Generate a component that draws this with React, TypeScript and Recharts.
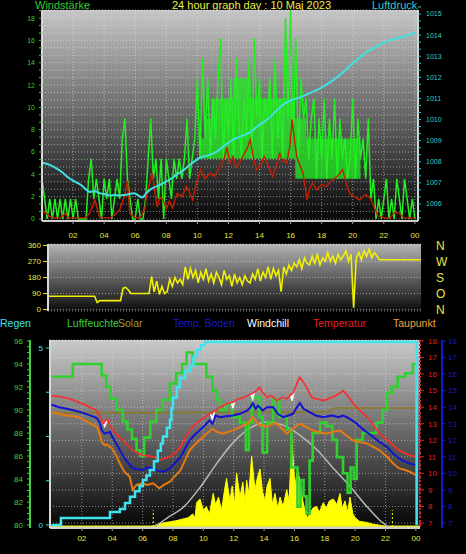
import React from "react";
import {
  ComposedChart,
  Line,
  Area,
  XAxis,
  YAxis,
  CartesianGrid,
  ReferenceLine,
} from "recharts";

const FONT = "'Liberation Sans', Arial, sans-serif";

// hours shown under each panel
const hourTicks = [2, 4, 6, 8, 10, 12, 14, 16, 18, 20, 22, 24];
const hourLabels = ["02", "04", "06", "08", "10", "12", "14", "16", "18", "20", "22", "00"];

// ---------- top panel ----------
// wind gust, one value every 10 minutes (m/s)
const gustValues = [
  3.6, 1.8, 0, 1.8, 0, 1.8,
  0, 1.8, 0, 1.8, 0, 1.8,
  0, 1.8, 0, 0, 0, 0,
  3.6, 5.4, 1.8, 3.6, 1.8, 0,
  3.6, 1.8, 3.6, 0, 1.8, 3.6,
  1.8, 7.2, 9.0, 3.6, 1.8, 0,
  0, 1.8, 0, 0, 1.8, 5.4,
  9.0, 3.6, 5.4, 1.8, 5.4, 0,
  5.4, 3.6, 1.8, 5.4, 3.6, 5.4,
  3.6, 5.4, 9.0, 3.6, 5.4, 7.2,
  12.6, 5.4, 14.4, 7.2, 12.6, 5.4,
  10.8, 7.2, 12.6, 16.2, 5.4, 10.8,
  7.2, 12.6, 5.4, 14.4, 9.0, 5.4,
  10.8, 7.2, 14.4, 5.4, 16.2, 9.0,
  12.6, 5.4, 10.8, 9.0, 12.6, 5.4,
  14.4, 7.2, 10.8, 5.4, 18.0, 9.0,
  18.7, 7.2, 16.2, 5.4, 12.6, 9.0,
  10.8, 5.4, 9.0, 10.8, 3.6, 9.0,
  5.4, 10.8, 3.6, 9.0, 5.4, 10.8,
  3.6, 9.0, 5.4, 7.2, 3.6, 5.4,
  10.8, 3.6, 9.0, 5.4, 7.2, 3.6,
  9.0, 1.8, 3.6, 0, 1.8, 0,
  1.8, 3.6, 0, 1.8, 0, 3.6,
  1.8, 0, 3.6, 1.8, 0, 1.8,
  0,
];

// the dense part of the gust trace [hour, low, high]
const gustBand: [number, number, number][] = [
  [10.2, 5.4, 7.2], [10.5, 5.4, 9.0], [10.9, 5.4, 10.8], [12.3, 5.4, 12.6], [13.3, 5.4, 10.8],
  [16.3, 3.6, 9.0], [17.0, 3.6, 7.2], [20.5, 3.6, 3.6],
];

// average wind [hour, m/s]
const windAvg: [number, number][] = [
  [0, 0.8], [0.3, 0.5], [0.5, 0.2], [0.8, 0.1], [1.2, 0.1], [1.5, 0.5], [1.7, 0.1], [2.3, 0.1],
  [2.8, 0.1], [3.1, 0.6], [3.4, 1.7], [3.7, 0.2], [4.0, 0.1], [4.4, 0.1], [4.7, 0.4], [5.0, 0.8],
  [5.3, 2.0], [5.5, 3.4], [5.65, 0.5], [6.0, 0.1], [6.3, 0.1], [6.6, 0.8], [6.75, 2.3], [7.1, 4.1],
  [7.4, 1.1], [7.6, 2.0], [7.8, 1.7], [8.0, 0.9], [8.2, 1.6], [8.4, 1.0], [8.7, 2.3], [9.0, 2.0],
  [9.3, 2.9], [9.5, 2.4], [9.7, 1.7], [9.9, 3.0], [10.2, 4.4], [10.5, 3.6], [10.8, 4.1], [11.1, 3.8],
  [11.45, 4.7], [11.7, 5.3], [11.9, 6.4], [12.1, 5.0], [12.3, 5.6], [12.5, 4.6], [12.7, 5.0], [13.0, 5.8],
  [13.2, 6.3], [13.4, 7.1], [13.6, 5.5], [13.8, 4.4], [14.1, 4.9], [14.3, 5.6], [14.5, 5.0], [14.7, 4.3],
  [14.85, 3.8], [15.1, 4.9], [15.3, 5.9], [15.5, 5.2], [15.75, 5.0], [15.95, 6.5], [16.1, 8.9], [16.25, 7.0],
  [16.4, 5.6], [16.6, 4.8], [16.8, 4.1], [17.05, 1.7], [17.2, 2.6], [17.4, 3.2], [17.7, 2.6], [18.0, 3.1],
  [18.3, 2.9], [18.6, 3.4], [19.0, 3.8], [19.35, 4.4], [19.6, 3.1], [19.8, 2.3], [20.1, 2.0], [20.45, 1.7],
  [20.8, 2.2], [21.1, 1.9], [21.4, 1.0], [21.6, 0.3], [22.0, 0.1], [22.4, 0.1], [22.7, 0.6], [23.0, 0.5],
  [23.3, 0.1], [23.7, 0.1], [24, 0.1],
];

// air pressure [hour, hPa]
const pressure: [number, number][] = [
  [0, 1007.95], [0.5, 1007.85], [0.9, 1007.7], [1.3, 1007.5], [1.6, 1007.3], [2.0, 1007.1],
  [2.5, 1006.9], [3.1, 1006.57], [3.4, 1006.6], [3.75, 1006.5], [4.1, 1006.45], [4.4, 1006.4],
  [4.7, 1006.42], [5.0, 1006.4], [5.5, 1006.45], [5.9, 1006.5], [6.2, 1006.4], [6.45, 1006.3],
  [6.7, 1006.5], [7.0, 1006.7], [7.6, 1006.9], [8.1, 1007.1], [8.6, 1007.35], [9.1, 1007.6],
  [9.6, 1007.9], [10.2, 1008.2], [10.7, 1008.3], [11.3, 1008.5], [11.8, 1008.8], [12.3, 1009.05],
  [12.8, 1009.2], [13.4, 1009.4], [13.9, 1009.7], [14.5, 1010.0], [15.0, 1010.35], [15.5, 1010.7],
  [16.0, 1010.9], [16.6, 1011.05], [17.1, 1011.2], [17.7, 1011.4], [18.2, 1011.6], [18.8, 1011.9],
  [19.4, 1012.25], [19.9, 1012.6], [20.4, 1012.9], [20.9, 1013.2], [21.4, 1013.4], [21.8, 1013.57],
  [22.4, 1013.75], [23.1, 1013.9], [23.6, 1014.0], [24, 1014.1],
];

const windTicks = [0, 2, 4, 6, 8, 10, 12, 14, 16, 18];
const pressureTicks = [1006, 1007, 1008, 1009, 1010, 1011, 1012, 1013, 1014, 1015];

// ---------- middle panel ----------
// wind direction in degrees, one value every 10 minutes
const directionValues = [
  75, 75, 75, 75, 75, 75,
  75, 75, 75, 75, 75, 75,
  75, 75, 75, 75, 75, 75,
  75, 40, 50, 50, 50, 50,
  50, 50, 50, 50, 50, 120,
  125, 110, 90, 90, 90, 90,
  90, 90, 90, 90, 185, 100,
  160, 85, 130, 90, 100, 170,
  130, 180, 150, 170, 140, 240,
  170, 230, 180, 220, 150, 210,
  170, 230, 160, 200, 150, 210,
  180, 140, 220, 170, 190, 130,
  200, 150, 180, 140, 190, 160,
  150, 200, 170, 230, 160, 210,
  180, 240, 170, 230, 190, 220,
  100, 240, 200, 250, 220, 260,
  240, 280, 230, 290, 260, 250,
  300, 260, 310, 250, 290, 270,
  320, 270, 300, 260, 310, 280,
  300, 330, 270, 310, 10, 290,
  320, 280, 330, 300, 340, 290,
  320, 300, 280, 280, 280, 280,
  280, 280, 280, 280, 280, 280,
  280, 280, 280, 280, 280, 280,
  280,
];
const directionTicks = [0, 90, 180, 270, 360];
const compassLetters = ["N", "O", "S", "W", "N"];

// ---------- bottom panel ----------
// accumulated rain [hour, mm]
const rain: [number, number][] = [
  [0, 0], [0.62, 0.2], [3.85, 0.37], [4.5, 0.45], [4.84, 0.62], [5.17, 0.8], [5.5, 0.95],
  [5.8, 1.1], [6.02, 1.27], [6.25, 1.4], [6.48, 1.55], [6.75, 1.8], [7.0, 2.1], [7.2, 2.3],
  [7.34, 2.5], [7.6, 2.75], [7.8, 2.97], [7.9, 3.3], [8.0, 3.6], [8.25, 3.9], [8.46, 4.15],
  [8.8, 4.35], [9.1, 4.5], [9.35, 4.75], [9.58, 4.95], [9.85, 5.08], [10.1, 5.17], [24.05, 5.17],
  [24.05, 0],
];

// humidity [hour, %]
const humidity: [number, number][] = [
  [0, 92.9], [1.4, 94], [3.3, 93], [3.6, 92], [3.9, 91], [4.3, 90], [4.7, 89], [5.0, 88.3],
  [5.3, 87.5], [5.6, 86.5], [5.85, 86], [6.1, 87.6], [6.5, 89], [6.9, 90], [7.3, 90.9], [7.8, 92.3],
  [8.2, 93.2], [8.6, 94], [8.9, 95], [9.3, 94], [10.2, 92.9], [10.6, 91.7], [10.9, 90.9], [11.1, 90],
  [11.5, 90.5], [11.9, 89.4], [12.4, 88.9], [12.8, 86.5], [13.0, 88.9], [13.2, 91.1], [13.7, 89.4],
  [13.9, 86.3], [14.2, 88.9], [14.6, 90.9], [15.0, 89.4], [15.5, 88.3], [15.8, 85], [16.2, 81.6],
  [16.4, 83.9], [16.6, 82.5], [16.8, 81], [17.0, 85.6], [17.2, 88], [17.7, 88.9], [18.1, 88.6],
  [18.5, 87.4], [18.8, 85.9], [19.2, 84.5], [19.5, 82.8], [19.7, 85], [19.9, 84], [20.1, 87.4],
  [20.5, 88], [21.0, 88], [21.4, 88.9], [21.8, 90], [22.1, 91.5], [22.4, 92], [22.8, 92.9],
  [23.3, 93.2], [23.8, 94], [24, 94],
];

// temperature [hour, °C]
const temperature: [number, number][] = [
  [0, 14.7], [0.5, 14.65], [1.0, 14.55], [1.5, 14.4], [1.9, 14.25], [2.2, 14.15], [2.5, 14.0],
  [2.8, 13.9], [3.05, 13.7], [3.25, 13.3], [3.4, 13.0], [3.55, 13.2], [3.7, 13.25], [3.85, 12.9],
  [4.2, 12.4], [4.5, 12.2], [4.9, 11.8], [5.35, 11.4], [5.7, 11.2], [6.0, 11.1], [6.4, 11.05],
  [6.7, 11.0], [7.1, 10.8], [7.4, 10.9], [7.8, 11.0], [8.2, 11.3], [8.5, 11.6], [8.8, 12.1],
  [9.1, 12.6], [9.4, 12.9], [9.75, 13.2], [10.1, 13.4], [10.4, 13.6], [10.8, 13.8], [11.1, 14.0],
  [11.5, 14.2], [11.95, 14.3], [12.3, 14.5], [12.6, 14.55], [12.9, 14.7], [13.25, 14.85],
  [13.5, 15.0], [13.7, 15.2], [13.9, 14.9], [14.2, 14.6], [14.5, 14.7], [14.85, 14.4], [15.2, 14.6],
  [15.5, 14.5], [15.7, 14.7], [15.9, 14.85], [16.1, 15.3], [16.35, 15.8], [16.6, 15.5], [16.8, 15.2],
  [17.0, 14.8], [17.2, 14.55], [17.5, 14.5], [17.9, 14.4], [18.2, 14.5], [18.5, 14.6], [18.9, 14.8],
  [19.2, 15.0], [19.5, 14.7], [19.85, 14.25], [20.3, 13.8], [20.8, 13.4], [21.2, 12.9], [21.6, 12.4],
  [22.0, 12.1], [22.3, 11.9], [22.6, 11.6], [22.9, 11.4], [23.3, 11.2], [23.6, 11.1], [24, 11.0],
];

// windchill, only where it drops below the temperature
const windchill: [number, number | null][] = [
  [3.35, 13.15], [3.5, 12.85], [3.65, 13.23], [3.66, null],
  [10.45, 13.63], [10.6, 13.3], [10.75, 13.78], [10.76, null],
  [11.85, 14.28], [11.95, 13.95], [12.05, 14.37], [12.06, null],
  [13.15, 14.8], [13.25, 14.5], [13.35, 14.91], [13.36, null],
  [15.75, 14.74], [15.85, 14.4], [15.95, 14.96],
];

// soil temperature [hour, °C]
const soilTemp: [number, number][] = [
  [0, 14.15], [0.5, 14.0], [1.0, 13.9], [1.5, 13.8], [1.9, 13.7], [2.4, 13.55], [3.0, 13.35],
  [3.2, 13.0], [3.3, 12.6], [3.5, 12.4], [3.65, 12.45], [3.85, 12.5], [4.0, 12.2], [4.2, 11.9],
  [4.5, 11.4], [4.9, 10.8], [5.35, 10.3], [5.7, 10.25], [6.0, 10.2], [6.3, 10.35], [6.7, 10.3],
  [7.0, 10.15], [7.35, 10.1], [7.6, 10.2], [7.8, 10.3], [8.1, 10.6], [8.5, 11.0], [8.8, 11.5],
  [9.1, 12.0], [9.4, 12.3], [9.75, 12.6], [10.1, 12.9], [10.4, 13.2], [10.6, 13.0], [10.8, 13.5],
  [11.1, 13.4], [11.5, 13.45], [11.95, 13.5], [12.4, 13.6], [12.9, 13.8], [13.1, 14.0], [13.25, 14.25],
  [13.45, 13.9], [13.6, 14.1], [13.9, 13.8], [14.2, 14.0], [14.6, 14.0], [14.9, 13.6], [15.25, 13.4],
  [15.6, 13.5], [15.9, 13.6], [16.1, 13.9], [16.35, 14.25], [16.6, 13.9], [17.0, 13.7], [17.4, 13.5],
  [17.9, 13.4], [18.2, 13.45], [18.5, 13.5], [18.9, 13.4], [19.2, 13.5], [19.45, 13.4], [19.8, 13.2],
  [20.1, 13.0], [20.6, 12.6], [21.2, 12.2], [21.6, 11.9], [22.1, 11.6], [22.5, 11.2], [22.9, 10.9],
  [23.3, 10.7], [23.6, 10.6], [24, 10.5],
];

// dew point [hour, °C]
const dewPoint: [number, number][] = [
  [0, 13.7], [0.5, 13.6], [1.0, 13.5], [1.5, 13.45], [1.9, 13.35], [2.4, 13.1], [3.0, 12.8],
  [3.2, 12.3], [3.3, 11.9], [3.5, 11.7], [3.65, 11.75], [3.85, 11.6], [4.0, 11.5], [4.3, 11.0],
  [4.5, 10.6], [4.8, 10.1], [5.15, 9.8], [5.35, 9.0], [5.6, 9.3], [6.0, 9.4], [6.3, 9.3], [6.7, 9.4],
  [7.1, 9.1], [7.4, 9.3], [7.8, 9.5], [8.1, 9.8], [8.5, 10.2], [8.8, 10.8], [9.1, 11.4], [9.4, 11.7],
  [9.75, 12.0], [10.1, 12.3], [10.6, 12.7], [10.9, 12.5], [11.3, 12.4], [11.6, 12.5], [11.95, 12.6],
  [12.4, 12.8], [12.9, 13.0], [13.25, 13.4], [13.5, 13.1], [13.7, 12.9], [14.0, 12.9], [14.2, 12.8],
  [14.5, 13.0], [14.85, 13.0], [15.2, 12.7], [15.5, 12.4], [15.9, 12.7], [16.35, 13.0], [16.8, 12.8],
  [17.2, 12.6], [17.6, 12.5], [18.1, 12.4], [18.5, 12.5], [19.0, 12.6], [19.4, 12.3], [19.85, 12.0],
  [20.3, 11.9], [20.8, 11.8], [21.2, 11.6], [21.6, 11.4], [22.1, 11.0], [22.5, 10.6], [22.9, 10.3],
  [23.3, 10.2], [23.6, 10.1], [24, 9.9],
];

// olive solar level line [hour, °C scale]
const solarLevel: [number, number][] = [
  [0, 13.65], [18.3, 13.72], [18.6, 13.95], [24, 13.95],
];

// measured solar radiation (relative)
const solar: [number, number][] = [
  [6.6, 0], [7.0, 1.5], [7.5, 2.5], [8.0, 3], [8.5, 4], [9.0, 5], [9.3, 7], [9.45, 5], [9.56, 13],
  [9.78, 15], [10.0, 9], [10.2, 11], [10.4, 7], [10.65, 18], [10.8, 12], [11.0, 16], [11.2, 9],
  [11.4, 20], [11.53, 26], [11.75, 14], [11.9, 22], [12.05, 12], [12.19, 29], [12.41, 16], [12.6, 24],
  [12.75, 13], [12.85, 25], [13.0, 18], [13.18, 38], [13.4, 20], [13.55, 26], [13.73, 31], [13.9, 19],
  [14.06, 14], [14.2, 22], [14.39, 26], [14.55, 12], [14.72, 18], [14.9, 10], [15.05, 16], [15.25, 11],
  [15.49, 20], [15.65, 14], [15.82, 48], [16.03, 22], [16.2, 30], [16.36, 25], [16.55, 14], [16.69, 9],
  [16.85, 5], [17.02, 7], [17.2, 10], [17.46, 11], [17.65, 8], [17.9, 13], [18.1, 10], [18.3, 14],
  [18.56, 15], [18.8, 12], [19.0, 18], [19.15, 10], [19.33, 14], [19.5, 8], [19.66, 16], [19.85, 7],
  [20.0, 5], [20.3, 3], [20.76, 2.5], [21.2, 1.5], [21.63, 1], [22.0, 0.3], [22.3, 0],
];

// theoretical clear sky radiation (relative)
const solarMax: [number, number][] = [
  [6.8, 0], [7.6, 4.8], [8.7, 10.7], [9.8, 21.4], [10.9, 34.2], [11.95, 45], [13.1, 53],
  [14.2, 56.2], [15.25, 54.5], [16.35, 49.2], [17.5, 41.2], [18.5, 32], [19.7, 21.4],
  [20.8, 10.7], [21.6, 3.8], [22.2, 0],
];

const sunrise = 6.7;
const sunset = 22.45;

const humidityTicks = [80, 82, 84, 86, 88, 90, 92, 94, 96];
const rainTicks = [0, 1.25, 2.5, 3.75, 5];
const tempTicks = [7, 8, 9, 10, 11, 12, 13, 14, 15, 16, 17, 18];

const toPoints = (rows: [number, number | null][]) => rows.map(([h, v]) => ({ h, v }));

const hourFmt = (v: number) => hourLabels[hourTicks.indexOf(v)] ?? "";

const legend = [
  { text: "Regen", color: "#3fe0e8", left: 0 },
  { text: "Luftfeuchte", color: "#3ed23e", left: 67 },
  { text: "Solar", color: "#9a9a3a", left: 118 },
  { text: "Temp. Boden", color: "#1818d0", left: 173 },
  { text: "Windchill", color: "#ffffff", left: 247 },
  { text: "Temperatur", color: "#e02020", left: 313 },
  { text: "Taupunkt", color: "#f0a040", left: 393 },
];

function Label({ text, color, left, top, size = 11 }: { text: string; color: string; left: number; top: number; size?: number }) {
  return (
    <div
      style={{
        position: "absolute",
        left,
        top,
        color,
        fontSize: size,
        fontFamily: FONT,
        lineHeight: `${size + 1}px`,
        whiteSpace: "nowrap",
      }}
    >
      {text}
    </div>
  );
}

export default function App() {
  const gustData = gustValues.map((v, i) => ({ h: i / 6, v }));
  const bandData = gustBand.map(([h, lo, hi]) => ({ h, v: [lo, hi] }));
  const dirData = directionValues.map((v, i) => ({ h: i / 6, v }));
  const windMinor = Array.from({ length: 29 }, (_, i) => (i * 2) / 3);
  const pressMinor = Array.from({ length: 31 }, (_, i) => 1005 + i / 3 + 1 / 3);
  const humMinor = Array.from({ length: 33 }, (_, i) => 80 + i / 2);

  const tickStyle = (fill: string, size = 7) => ({ fill, fontSize: size, fontFamily: FONT });
  const grid = { stroke: "#e8e8e8", strokeOpacity: 0.55, strokeDasharray: "1 2" };

  return (
    <div
      style={{
        position: "absolute",
        left: 0,
        top: 0,
        width: 466,
        height: 554,
        background: "#000",
        overflow: "hidden",
      }}
    >
      <Label text="Windstärke" color="#33cc33" left={35} top={-1} />
      <Label text="24 hour graph day : 10 Maj 2023" color="#eeee44" left={172} top={-1} />
      <Label text="Luftdruck" color="#33cccc" left={372} top={-1} />

      {/* top: wind and pressure */}
      <div style={{ position: "absolute", left: 0, top: 0 }}>
        <ComposedChart width={466} height={245} margin={{ top: 10, right: 10, bottom: 4, left: 12 }}>
          <defs>
            <linearGradient id="bgTop" x1="0" y1="0" x2="0" y2="1">
              <stop offset="0%" stopColor="#c6c6c6" />
              <stop offset="100%" stopColor="#060606" />
            </linearGradient>
          </defs>
          <CartesianGrid {...grid} fill="url(#bgTop)" yAxisId="wind" />
          <XAxis
            type="number"
            dataKey="h"
            domain={[0, 24.2]}
            ticks={hourTicks}
            interval={0}
            tickFormatter={hourFmt}
            tick={tickStyle("#e6e640", 8)}
            tickSize={3}
            tickMargin={8}
            height={20}
            axisLine={{ stroke: "#d0d0d0", strokeWidth: 2 }}
            tickLine={{ stroke: "#a0a0a0" }}
            allowDataOverflow
          />
          <YAxis
            yAxisId="wind"
            orientation="left"
            width={30}
            domain={[-0.18, 18.72]}
            ticks={windMinor}
            interval={0}
            tickFormatter={(v: number) => (windTicks.includes(v) ? String(v) : "")}
            tick={tickStyle("#33cc33")}
            tickSize={3}
            tickMargin={4}
            axisLine={{ stroke: "#d8d8d8", strokeWidth: 2 }}
            tickLine={{ stroke: "#33cc33" }}
            allowDataOverflow
          />
          <YAxis
            yAxisId="press"
            orientation="right"
            width={38}
            domain={[1005.19, 1015.19]}
            ticks={pressMinor}
            interval={0}
            tickFormatter={(v: number) => {
              const r = Math.round(v);
              return Math.abs(v - r) < 1e-6 && pressureTicks.includes(r) ? String(r) : "";
            }}
            tick={tickStyle("#33cccc")}
            tickSize={3}
            tickMargin={5}
            axisLine={{ stroke: "#d8d8d8", strokeWidth: 2 }}
            tickLine={{ stroke: "#33cccc" }}
            allowDataOverflow
          />
          <Area
            yAxisId="wind"
            data={bandData}
            dataKey="v"
            type="stepAfter"
            stroke="none"
            fill="#22ee22"
            fillOpacity={0.75}
            isAnimationActive={false}
          />
          <Line
            yAxisId="wind"
            data={gustData}
            dataKey="v"
            type="linear"
            stroke="#22ee22"
            strokeWidth={1.5}
            dot={false}
            isAnimationActive={false}
          />
          <Line
            yAxisId="wind"
            data={toPoints(windAvg)}
            dataKey="v"
            type="linear"
            stroke="#c81e00"
            strokeWidth={1.4}
            dot={false}
            isAnimationActive={false}
          />
          <Line
            yAxisId="press"
            data={toPoints(pressure)}
            dataKey="v"
            type="monotone"
            stroke="#40e0e0"
            strokeWidth={2}
            dot={false}
            isAnimationActive={false}
          />
        </ComposedChart>
      </div>

      {/* middle: wind direction */}
      <div style={{ position: "absolute", left: 0, top: 240 }}>
        <ComposedChart width={466} height={80} margin={{ top: 4, right: 10, bottom: 9, left: 12 }}>
          <defs>
            <linearGradient id="bgMid" x1="0" y1="0" x2="0" y2="1">
              <stop offset="0%" stopColor="#b4b4b4" />
              <stop offset="100%" stopColor="#0c0c0c" />
            </linearGradient>
          </defs>
          <CartesianGrid {...grid} vertical={false} fill="url(#bgMid)" yAxisId="dir" />
          <XAxis type="number" dataKey="h" domain={[0, 24]} hide allowDataOverflow />
          <YAxis
            yAxisId="dir"
            orientation="left"
            width={36}
            domain={[-8, 368]}
            ticks={directionTicks}
            interval={0}
            tick={tickStyle("#e6e640", 8)}
            tickSize={5}
            tickMargin={2}
            axisLine={{ stroke: "#d8d8d8", strokeWidth: 2 }}
            tickLine={{ stroke: "#e6e640" }}
            allowDataOverflow
          />
          <YAxis
            yAxisId="compass"
            orientation="right"
            width={35}
            domain={[-8, 368]}
            ticks={directionTicks}
            interval={0}
            tickFormatter={(v: number) => compassLetters[directionTicks.indexOf(v)]}
            tick={tickStyle("#e6e640", 12)}
            tickSize={0}
            tickMargin={15}
            axisLine={false}
            allowDataOverflow
          />
          <Line
            yAxisId="dir"
            data={dirData}
            dataKey="v"
            type="linear"
            stroke="#f0f000"
            strokeWidth={1.6}
            dot={false}
            isAnimationActive={false}
          />
        </ComposedChart>
      </div>

      {legend.map((l) => (
        <Label key={l.text} text={l.text} color={l.color} left={l.left} top={318} size={10.5} />
      ))}

      {/* bottom: rain, humidity, temperatures, solar
          (axis ids are named so that the inner axes sort first) */}
      <div style={{ position: "absolute", left: 0, top: 330 }}>
        <ComposedChart width={466} height={224} margin={{ top: 10, right: 0, bottom: 6, left: 0 }}>
          <defs>
            <linearGradient id="bgBot" x1="0" y1="0" x2="0" y2="1">
              <stop offset="0%" stopColor="#cacaca" />
              <stop offset="100%" stopColor="#040404" />
            </linearGradient>
          </defs>
          <CartesianGrid {...grid} fill="url(#bgBot)" yAxisId="a_temp" />
          <XAxis
            type="number"
            dataKey="h"
            domain={[-0.1, 24.27]}
            ticks={hourTicks}
            interval={0}
            tickFormatter={hourFmt}
            tick={tickStyle("#e6e640", 8)}
            tickSize={3}
            tickMargin={4}
            height={20}
            axisLine={{ stroke: "#d0d0d0", strokeWidth: 2 }}
            tickLine={{ stroke: "#a0a0a0" }}
            allowDataOverflow
          />
          <YAxis
            yAxisId="a_rain"
            orientation="left"
            width={20}
            domain={[-0.085, 5.226]}
            ticks={rainTicks}
            interval={0}
            tickFormatter={(v: number) => (v === 0 || v === 5 ? String(v) : "")}
            tick={tickStyle("#3fe0e8", 8)}
            tickSize={4}
            tickMargin={3}
            axisLine={{ stroke: "#d8d8d8", strokeWidth: 2 }}
            tickLine={{ stroke: "#3fe0e8" }}
            allowDataOverflow
          />
          <YAxis
            yAxisId="b_hum"
            orientation="left"
            width={30}
            domain={[79.74, 96.09]}
            ticks={humMinor}
            interval={0}
            tickFormatter={(v: number) => (humidityTicks.includes(v) ? String(v) : "")}
            tick={tickStyle("#3ed23e", 8)}
            tickSize={3}
            tickMargin={4}
            axisLine={{ stroke: "#3ed23e", strokeWidth: 2 }}
            tickLine={{ stroke: "#3ed23e" }}
            allowDataOverflow
          />
          <YAxis
            yAxisId="a_temp"
            orientation="right"
            width={22}
            domain={[6.7, 18.06]}
            ticks={tempTicks}
            interval={0}
            tick={tickStyle("#e02020", 8)}
            tickSize={4}
            tickMargin={4}
            axisLine={{ stroke: "#e02020", strokeDasharray: "2 2", strokeWidth: 2 }}
            tickLine={{ stroke: "#e02020" }}
            allowDataOverflow
          />
          <YAxis
            yAxisId="b_soil"
            orientation="right"
            width={24}
            domain={[6.7, 18.06]}
            ticks={tempTicks}
            interval={0}
            tick={tickStyle("#1818d0", 8)}
            tickSize={4}
            tickMargin={2}
            axisLine={{ stroke: "#1818d0", strokeWidth: 2 }}
            tickLine={{ stroke: "#1818d0" }}
            allowDataOverflow
          />
          <YAxis yAxisId="c_solar" hide domain={[-0.5, 100]} allowDataOverflow />

          <Area
            yAxisId="c_solar"
            data={toPoints(solar)}
            dataKey="v"
            type="linear"
            stroke="#ffff00"
            strokeWidth={1}
            fill="#ffff00"
            fillOpacity={1}
            isAnimationActive={false}
          />
          <ReferenceLine yAxisId="c_solar" y={0} stroke="#e8e840" strokeWidth={3} />
          <ReferenceLine
            yAxisId="c_solar"
            segment={[{ x: sunrise, y: 0 }, { x: sunrise, y: 9 }]}
            stroke="#ffff00"
            strokeDasharray="2 2"
          />
          <ReferenceLine
            yAxisId="c_solar"
            segment={[{ x: sunset, y: 0 }, { x: sunset, y: 9 }]}
            stroke="#ffff00"
            strokeDasharray="2 2"
          />
          <Line
            yAxisId="c_solar"
            data={toPoints(solarMax)}
            dataKey="v"
            type="monotone"
            stroke="#b8b8b8"
            strokeWidth={1.5}
            dot={false}
            isAnimationActive={false}
          />
          <Line
            yAxisId="a_temp"
            data={toPoints(solarLevel)}
            dataKey="v"
            type="linear"
            stroke="#8a7a20"
            strokeWidth={1.5}
            dot={false}
            isAnimationActive={false}
          />
          <Line
            yAxisId="b_hum"
            data={toPoints(humidity)}
            dataKey="v"
            type="stepAfter"
            stroke="#30d030"
            strokeWidth={2.6}
            dot={false}
            isAnimationActive={false}
          />
          <Line
            yAxisId="a_temp"
            data={toPoints(dewPoint)}
            dataKey="v"
            type="linear"
            stroke="#e87810"
            strokeWidth={2}
            dot={false}
            isAnimationActive={false}
          />
          <Line
            yAxisId="b_soil"
            data={toPoints(soilTemp)}
            dataKey="v"
            type="linear"
            stroke="#1212d0"
            strokeWidth={2}
            dot={false}
            isAnimationActive={false}
          />
          <Line
            yAxisId="a_temp"
            data={toPoints(windchill)}
            dataKey="v"
            type="linear"
            stroke="#ffffff"
            strokeWidth={1.6}
            dot={false}
            isAnimationActive={false}
          />
          <Line
            yAxisId="a_temp"
            data={toPoints(temperature)}
            dataKey="v"
            type="linear"
            stroke="#ff2a2a"
            strokeWidth={1.6}
            dot={false}
            isAnimationActive={false}
          />
          <Line
            yAxisId="a_rain"
            data={toPoints(rain)}
            dataKey="v"
            type="stepAfter"
            stroke="#40e4f0"
            strokeWidth={2.5}
            dot={false}
            isAnimationActive={false}
          />
        </ComposedChart>
      </div>
    </div>
  );
}
